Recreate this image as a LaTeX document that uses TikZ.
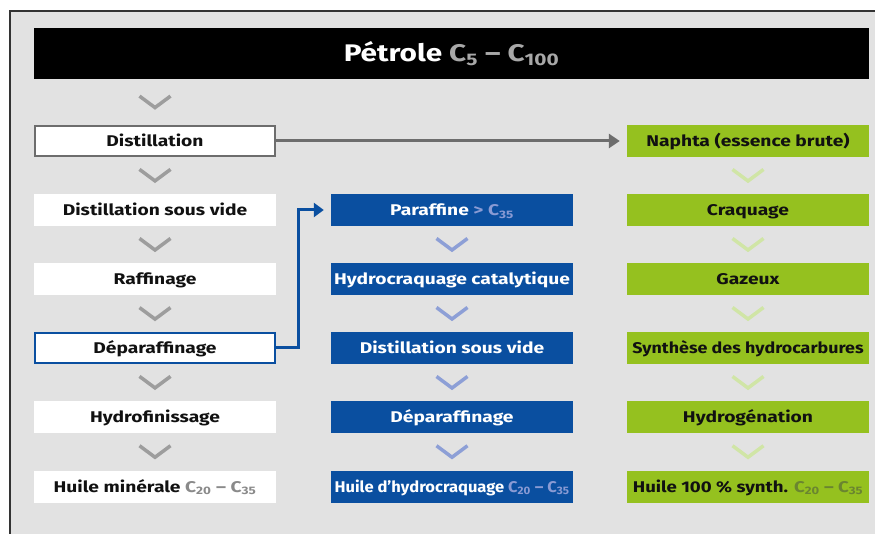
\documentclass[tikz,border=0pt]{standalone}
\usepackage{fontspec}
\setmainfont{Fira Sans}[FakeStretch=1.24]
\usetikzlibrary{arrows.meta,calc}
\definecolor{bgc}{HTML}{E2E2E2}
\definecolor{framec}{HTML}{333333}
\definecolor{bluebox}{HTML}{0A4FA0}
\definecolor{greenbox}{HTML}{95C11F}
\definecolor{graychev}{HTML}{9D9D9D}
\definecolor{bluechev}{HTML}{8D9FD6}
\definecolor{greenchev}{HTML}{D0E5A6}
\definecolor{graysub}{HTML}{8A8A8A}
\definecolor{titlesub}{HTML}{A8A8A8}
\definecolor{bluesub}{HTML}{8A9BD4}
\definecolor{greensub}{HTML}{6A8530}
\definecolor{darkarrow}{HTML}{6D6D6D}
\definecolor{darktext}{HTML}{111111}
\newcommand{\Cn}[1]{C\textsubscript{#1}}
\begin{document}
\begin{tikzpicture}[x=1pt,y=-1pt,
  box/.style={minimum width=242pt,minimum height=32pt,inner sep=0pt,
    text height=11pt,text depth=0pt,
    font=\bfseries\fontsize{15.5}{18}\selectfont},
  whitebox/.style={box,fill=white,text=darktext},
  bluebx/.style={box,fill=bluebox,text=white},
  greenbx/.style={box,fill=greenbox,text=darktext},
  chev/.style={line width=3.5pt,line cap=butt,line join=miter},
  ]
\useasboundingbox (0,0) rectangle (875,534);
\fill[white] (0,0) rectangle (875,534);
\begin{scope}
\clip (0,0) rectangle (875,534);
\filldraw[fill=bgc,draw=framec,line width=1.5pt] (10,11) rectangle (890,550);
\end{scope}
% title
\node[fill=black,minimum width=835pt,minimum height=51pt,inner sep=0pt,
  text height=17pt,text depth=0pt,
  text=white,font=\bfseries\fontsize{24}{28}\selectfont] (title) at (451.5,53.5)
  {Pétrole \textcolor{titlesub}{\Cn{5} – \Cn{100}}};
% left column
\node[whitebox,draw=darkarrow,line width=2pt,minimum width=240pt,minimum height=30pt] (l1) at (155,141) {Distillation};
\node[whitebox] (l2) at (155,210) {Distillation sous vide};
\node[whitebox] (l3) at (155,279) {Raffinage};
\node[whitebox,draw=bluebox,line width=2pt,minimum width=240pt,minimum height=30pt] (l4) at (155,348) {Déparaffinage};
\node[whitebox] (l5) at (155,417) {Hydrofinissage};
\node[whitebox] (l6) at (155,486.5) {Huile minérale \textcolor{graysub}{\Cn{20} – \Cn{35}}};
% middle column
\node[bluebx] (m2) at (452,210) {Paraffine \textcolor{bluesub}{> \Cn{35}}};
\node[bluebx] (m3) at (452,279) {Hydrocraquage catalytique};
\node[bluebx] (m4) at (452,348) {Distillation sous vide};
\node[bluebx] (m5) at (452,417) {Déparaffinage};
\node[bluebx] (m6) at (452,486.5) {\scalebox{0.86}[1]{Huile d’hydrocraquage \textcolor{bluesub}{\Cn{20} – \Cn{35}}}};
% right column
\node[greenbx] (r1) at (748,141) {Naphta (essence brute)};
\node[greenbx] (r2) at (748,210) {Craquage};
\node[greenbx] (r3) at (748,279) {Gazeux};
\node[greenbx] (r4) at (748,348) {\scalebox{0.93}[1]{Synthèse des hydrocarbures}};
\node[greenbx] (r5) at (748,417) {Hydrogénation};
\node[greenbx] (r6) at (748,486.5) {\scalebox{0.97}[1]{Huile 100 \% synth. \textcolor{greensub}{\Cn{20} – \Cn{35}}}};
% chevrons
\foreach \a/\b/\c in {title/l1/graychev,l1/l2/graychev,l2/l3/graychev,l3/l4/graychev,l4/l5/graychev,l5/l6/graychev,
  m2/m3/bluechev,m3/m4/bluechev,m4/m5/bluechev,m5/m6/bluechev,
  r1/r2/greenchev,r2/r3/greenchev,r3/r4/greenchev,r4/r5/greenchev,r5/r6/greenchev}{
  \coordinate (cc) at ($(\a.south -| \b.north)!0.5!(\b.north)$);
  \draw[chev,\c] ($(cc)+(-15.5,-6)$) -- ($(cc)+(0,5.5)$) -- ($(cc)+(15.5,-6)$);
}
% connectors
\draw[darkarrow,line width=3pt,-{Triangle[length=11pt,width=14pt]},shorten >=7pt] (l1.east) -- (r1.west);
\draw[bluebox,line width=3pt,-{Triangle[length=10pt,width=14pt]},shorten >=7pt] (l4.east) -- ++(22,0) |- (m2.west);
\end{tikzpicture}
\end{document}
